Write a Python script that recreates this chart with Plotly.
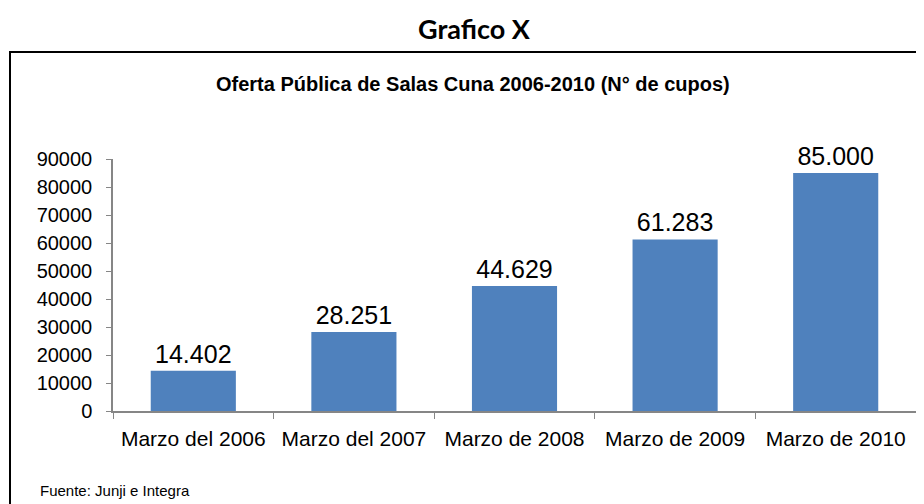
import plotly.graph_objects as go

categorias = ['Marzo del 2006', 'Marzo del 2007', 'Marzo de 2008', 'Marzo de 2009', 'Marzo de 2010']
cupos = [14402, 28251, 44629, 61283, 85000]
ticks_y = [0, 10000, 20000, 30000, 40000, 50000, 60000, 70000, 80000, 90000]

etiquetas = [f'{v:,}'.replace(',', '.') for v in cupos]

# page has an 8px body margin, so work in window px and shift back
OFF = 8
W, H = 924 - OFF, 504 - OFF
L, R, T, B = 113 - OFF, 8, 159 - OFF, 93
pw, ph = W - L - R, H - T - B

def px(x):
    return (x - OFF - L) / pw

def py(y):
    return (H - B - (y - OFF)) / ph

fig = go.Figure()
fig.add_trace(go.Bar(
    x=categorias, y=cupos, text=etiquetas, textposition='outside',
    textfont=dict(family='Liberation Sans, Arial', size=25, color='black'),
    marker=dict(color='#4f81bd', line=dict(width=0)),
    width=0.53, cliponaxis=False,
))

fig.update_layout(
    width=W, height=H,
    margin=dict(l=L, r=R, t=T, b=B, autoexpand=False),
    plot_bgcolor='white', paper_bgcolor='white',
    showlegend=False,
    font=dict(family='Liberation Sans, Arial', color='black'),
    xaxis=dict(
        showline=True, linecolor='#868686', linewidth=1.5,
        ticks='outside', tickson='boundaries', ticklen=6, tickcolor='#868686',
        tickfont=dict(size=21), tickangle=0, automargin=False,
        showgrid=False, ticklabelstandoff=8,
    ),
    yaxis=dict(
        range=[0, 90000], tickvals=ticks_y, tickformat='d',
        showline=True, linecolor='#868686', linewidth=1.5,
        ticks='outside', ticklen=5, tickcolor='#868686',
        tickfont=dict(size=20), showgrid=False, zeroline=False,
        automargin=False, ticklabelstandoff=10,
    ),
    shapes=[dict(type='rect', xref='paper', yref='paper',
                 x0=px(10), x1=px(960), y0=py(540), y1=py(52),
                 line=dict(color='black', width=2))],
    annotations=[
        dict(text='<b>Grafico X</b>', xref='paper', yref='paper',
             x=px(474), y=py(28), yanchor='middle', showarrow=False,
             font=dict(family='Lato', size=27, color='black')),
        dict(text='<b>Oferta Pública de Salas Cuna 2006-2010 (N° de cupos)</b>',
             xref='paper', yref='paper', x=px(473), y=py(84), yanchor='middle',
             showarrow=False, font=dict(size=20, color='black')),
        dict(text='Fuente: Junji e Integra', xref='paper', yref='paper',
             x=px(38), y=py(490), xanchor='left', yanchor='middle',
             showarrow=False, font=dict(size=15, color='black')),
    ],
)

fig.write_html('out.html')
